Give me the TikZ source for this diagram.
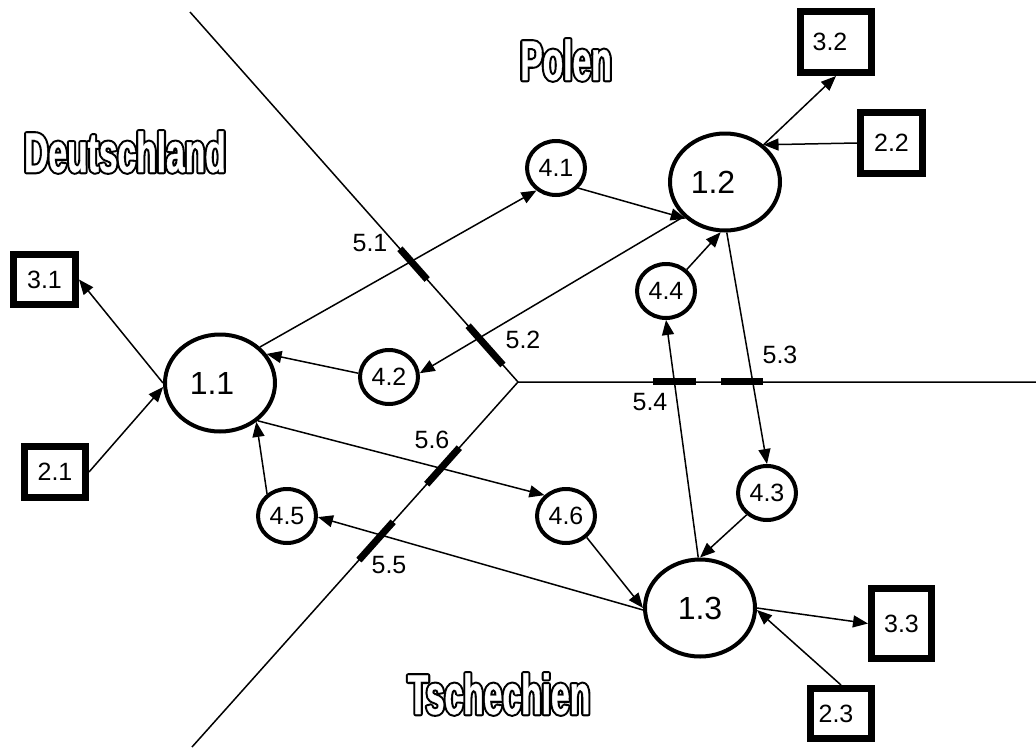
\documentclass[tikz,border=0pt]{standalone}
\usepackage{fontspec}
\setmainfont{Liberation Sans}
\newfontfamily\cntfont[FakeStretch=0.6]{Liberation Sans}
\usetikzlibrary{shapes.geometric,arrows.meta,calc}
\tikzset{
  big/.style={ellipse, draw, line width=4pt, minimum width=110pt, minimum height=97pt, inner sep=0pt, font=\fontsize{32}{34}\selectfont},
  small/.style={ellipse, draw, line width=4pt, minimum width=58pt, minimum height=54pt, inner sep=0pt, font=\fontsize{25}{27}\selectfont},
  ext/.style={rectangle, draw, line width=7pt, inner sep=0pt, font=\fontsize{25}{27}\selectfont},
  arr/.style={line width=1.5pt, -{Triangle[length=15pt,width=12pt]}},
  border/.style={line width=1.5pt},
  bmark/.style={line width=7pt},
  blabel/.style={font=\fontsize{25}{27}\selectfont, inner sep=0pt},
  country/.style={font=\cntfont\bfseries\fontsize{56}{58}\selectfont, inner sep=0pt},
}
\newcommand{\outl}[1]{\rlap{\special{pdf:literal 2 Tr 4.6 w 1 j}#1\special{pdf:literal 0 Tr}}{\color{white}\special{pdf:literal 2 Tr 0.4 w 1 j}#1\special{pdf:literal 0 Tr}}}
\begin{document}
\begin{tikzpicture}[x=1pt,y=-1pt]
\useasboundingbox (0,0) rectangle (1036,747);
% borders
\coordinate (T) at (190,12);
\coordinate (J) at (518,382);
\coordinate (R) at (1036,382);
\coordinate (B) at (192,747);
\draw[border] (T) -- (J) -- (R);
\draw[border] (J) -- (B);
\draw[bmark] ($(T)!0.640!(J)$) -- ($(T)!0.723!(J)$);
\draw[bmark] ($(T)!0.848!(J)$) -- ($(T)!0.954!(J)$);
\draw[bmark] (653,381) -- (696,381);
\draw[bmark] (721,381) -- (763,381);
\draw[bmark] ($(J)!0.18!(B)$) -- ($(J)!0.28!(B)$);
\draw[bmark] ($(J)!0.383!(B)$) -- ($(J)!0.488!(B)$);
\node[blabel] (l51) at (370,243) {5.1};
\node[blabel] (l52) at (523,340) {5.2};
\node[blabel] (l53) at (780,355) {5.3};
\node[blabel] (l54) at (650,402) {5.4};
\node[blabel] (l56) at (432,440) {5.6};
\node[blabel] (l55) at (389,565) {5.5};
% countries
\node[country] (de) at (125,152) {\outl{Deutschland}};
\node[country] (pl) at (566,60) {\outl{Polen}};
\node[country] (cz) at (499,694) {\outl{Tschechien}};
% main nodes
\node[big] (n11) at (220,383) {\hspace*{-16pt}1.1};
\node[big] (n12) at (725,182) {\hspace*{-24pt}1.2};
\node[big] (n13) at (700,608) {1.3};
\node[small] (n41) at (556,168) {4.1};
\node[small] (n42) at (389,377) {4.2};
\node[small] (n43) at (767,493) {4.3};
\node[small] (n44) at (666,291) {4.4};
\node[small] (n45) at (287,516) {4.5};
\node[small] (n46) at (566,516) {4.6};
\node[ext, minimum width=62pt, minimum height=50pt] (n31) at (44.5,279.5) {3.1};
\node[ext, minimum width=61pt, minimum height=51pt] (n21) at (55,472) {2.1};
\node[ext, minimum width=71pt, minimum height=61pt] (n32) at (836,42) {\hspace*{-12pt}3.2};
\node[ext, minimum width=62pt, minimum height=61pt] (n22) at (891.5,143) {2.2};
\node[ext, minimum width=60pt, minimum height=70pt] (n33) at (901.5,623.5) {3.3};
\node[ext, minimum width=61pt, minimum height=50pt] (n23) at (841,713.5) {\hspace*{-10pt}2.3};
% connectors
\draw[arr] (n11.180) -- (n31.east);
\draw[arr] (n21.east) -- (n11.184);
\draw[arr] (n11.42) -- (n41.229);
\draw[arr] (n42.173) -- (n11.32);
\draw[arr] (n11.-45) -- (n46.136);
\draw[arr] (n45.132) -- (n11.-47);
\draw[arr] (n41.-42) -- (n12.223);
\draw[arr] (n12.220) -- (n42.7);
\draw[arr] (n44.46) -- (n12.265);
\draw[arr] (n12.272) -- (n43.90);
\draw[arr] (n12.44) -- (n32.south);
\draw[arr] (n22.west) -- (n12.44);
\draw[arr] (n43.227) -- (n13.90);
\draw[arr] (n13.92) -- (n44.270);
\draw[arr] (n46.-46) -- (n13.180);
\draw[arr] (n13.182) -- (n45.-2);
\draw[arr] (n13.0) -- (n33.west);
\draw[arr] (n23.north) -- (n13.-2);
\end{tikzpicture}
\end{document}
